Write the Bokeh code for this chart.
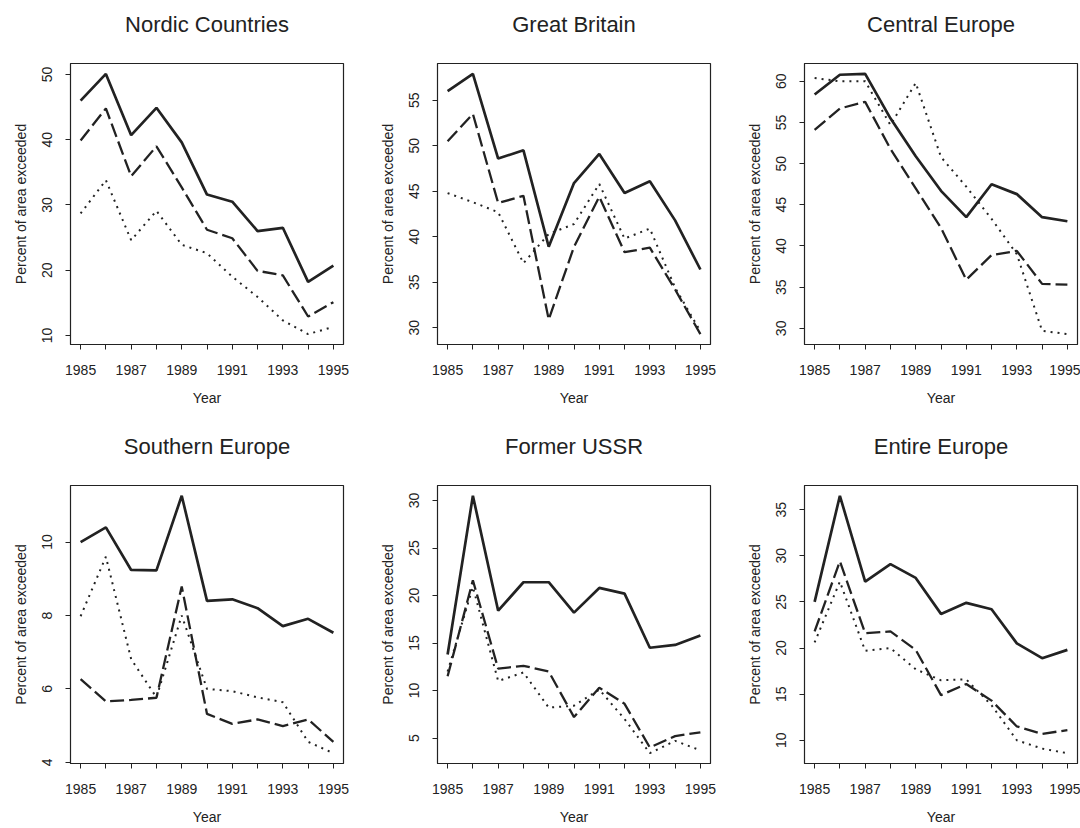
import math
from bokeh.plotting import figure
from bokeh.layouts import gridplot
from bokeh.models import Range1d, FixedTicker, LinearAxis
from bokeh.embed import file_html
from bokeh.resources import INLINE

years = [1985, 1986, 1987, 1988, 1989, 1990, 1991, 1992, 1993, 1994, 1995]
x_labelled = [1985, 1987, 1989, 1991, 1993, 1995]

titles = ["Nordic Countries", "Great Britain", "Central Europe",
          "Southern Europe", "Former USSR", "Entire Europe"]

# solid series
nordic_solid = [46.0, 50.1, 40.7, 44.9, 39.6, 31.6, 30.5, 26.0, 26.5, 18.2, 20.7]
gb_solid = [56.0, 57.9, 48.6, 49.5, 38.9, 45.9, 49.1, 44.8, 46.1, 41.8, 36.4]
central_solid = [58.4, 60.8, 60.9, 55.5, 50.9, 46.7, 43.5, 47.5, 46.3, 43.5, 43.0]
southern_solid = [10.0, 10.4, 9.24, 9.23, 11.26, 8.40, 8.44, 8.20, 7.71, 7.91, 7.53]
ussr_solid = [13.8, 30.5, 18.4, 21.4, 21.4, 18.2, 20.8, 20.2, 14.5, 14.8, 15.8]
entire_solid = [25.0, 36.5, 27.2, 29.1, 27.6, 23.7, 24.9, 24.2, 20.5, 18.9, 19.8]

# dashed series
nordic_dashed = [39.9, 44.8, 34.4, 39.0, 32.7, 26.2, 24.9, 19.9, 19.2, 12.9, 15.1]
gb_dashed = [50.5, 53.5, 43.7, 44.5, 30.9, 38.9, 44.4, 38.3, 38.8, 34.2, 29.3]
central_dashed = [54.1, 56.7, 57.5, 51.8, 47.0, 42.2, 35.9, 38.9, 39.4, 35.4, 35.3]
southern_dashed = [6.27, 5.66, 5.70, 5.76, 8.79, 5.32, 5.05, 5.17, 4.99, 5.17, 4.56]
ussr_dashed = [11.5, 21.6, 12.3, 12.6, 12.0, 7.2, 10.3, 8.6, 4.0, 5.2, 5.6]
entire_dashed = [21.8, 29.4, 21.6, 21.8, 19.8, 14.9, 16.1, 14.3, 11.5, 10.7, 11.1]

# dotted series
nordic_dotted = [28.7, 33.8, 24.6, 29.1, 23.9, 22.6, 19.0, 15.9, 12.3, 10.2, 11.3]
gb_dotted = [44.8, 43.8, 42.7, 37.1, 40.3, 41.4, 45.8, 39.8, 40.9, 34.4, 29.6]
central_dotted = [60.4, 60.0, 60.0, 54.7, 59.8, 50.8, 47.2, 43.3, 39.0, 29.7, 29.3]
southern_dotted = [7.98, 9.60, 6.81, 5.77, 8.00, 6.00, 5.94, 5.77, 5.64, 4.56, 4.25]
ussr_dotted = [12.0, 20.9, 11.0, 11.9, 8.2, 8.4, 10.1, 7.0, 3.4, 4.7, 3.7]
entire_dotted = [20.6, 27.2, 19.7, 20.0, 17.7, 16.5, 16.6, 13.8, 10.0, 9.1, 8.6]

# y tick values per panel
nordic_yticks = [10, 20, 30, 40, 50]
gb_yticks = [30, 35, 40, 45, 50, 55]
central_yticks = [30, 35, 40, 45, 50, 55, 60]
southern_yticks = [4, 6, 8, 10]
ussr_yticks = [5, 10, 15, 20, 25, 30]
entire_yticks = [10, 15, 20, 25, 30, 35]

panels = [
    (nordic_solid, nordic_dashed, nordic_dotted, nordic_yticks),
    (gb_solid, gb_dashed, gb_dotted, gb_yticks),
    (central_solid, central_dashed, central_dotted, central_yticks),
    (southern_solid, southern_dashed, southern_dotted, southern_yticks),
    (ussr_solid, ussr_dashed, ussr_dotted, ussr_yticks),
    (entire_solid, entire_dashed, entire_dotted, entire_yticks),
]

INK = "#222222"
FONT = "Liberation Sans"

col_widths = [367, 367, 346]
frame_w = 273
row_heights = [422, 405]
top_border = 63
frame_h = 281


def padded(vals, frac=0.04):
    lo, hi = min(vals), max(vals)
    span = hi - lo
    return lo - frac * span, hi + frac * span


figs = []
for i, (title, (s, d, t, yt)) in enumerate(zip(titles, panels)):
    r, c = divmod(i, 3)
    w, h = col_widths[c], row_heights[r]
    allv = s + d + t
    y0, y1 = padded(allv)
    x0, x1 = padded(years)
    p = figure(width=w, height=h, output_backend="svg", toolbar_location=None,
               x_range=Range1d(x0, x1), y_range=Range1d(y0, y1),
               min_border_left=70, min_border_top=top_border,
               min_border_right=w - 70 - frame_w,
               min_border_bottom=h - top_border - frame_h,
               background_fill_color="white", border_fill_color="white",
               outline_line_color=INK, outline_line_width=1.2)

    # invisible spacer axis between frame and title (no lines, empty labels)
    spacer = LinearAxis(ticker=FixedTicker(ticks=years), axis_line_color=None,
                        major_tick_line_color=None, minor_tick_line_color=None,
                        major_tick_out=18, major_tick_in=0,
                        major_label_standoff=0, major_label_text_font_size="0px",
                        major_label_overrides={yy: "" for yy in years})
    p.add_layout(spacer, "above")

    p.title.text = title
    p.title.align = "center"
    p.title.text_font = FONT
    p.title.text_font_size = "22px"
    p.title.text_font_style = "normal"
    p.title.text_color = INK
    p.title.standoff = 18

    p.line(years, s, line_color=INK, line_width=2.7)
    p.line(years, d, line_color=INK, line_width=2.3, line_dash="14 5")
    p.line(years, t, line_color=INK, line_width=2.0, line_dash="2 5")

    p.xgrid.grid_line_color = None
    p.ygrid.grid_line_color = None

    xax = p.below[0]
    yax = p.left[0]
    xax.ticker = FixedTicker(ticks=years)
    xax.major_label_overrides = {yy: (str(yy) if yy in x_labelled else "") for yy in years}
    yax.ticker = FixedTicker(ticks=yt)
    yax.major_label_orientation = "vertical"

    for ax in (xax, yax):
        ax.axis_line_color = INK
        ax.major_tick_line_color = INK
        ax.major_tick_out = 5
        ax.major_tick_in = 0
        ax.minor_tick_line_color = None
        ax.major_label_text_font = FONT
        ax.major_label_text_font_size = "14px"
        ax.major_label_text_color = INK
        ax.axis_label_text_font = FONT
        ax.axis_label_text_font_size = "14px"
        ax.axis_label_text_font_style = "normal"
        ax.axis_label_text_color = INK
    xax.major_label_standoff = 15
    yax.major_label_standoff = 13
    xax.axis_label = "Year"
    yax.axis_label = "Percent of area exceeded"
    xax.axis_label_standoff = 12
    yax.axis_label_standoff = 11
    figs.append(p)

grid = gridplot([figs[0:3], figs[3:6]], toolbar_location=None)

open("out.html", "w").write(file_html(grid, INLINE))
